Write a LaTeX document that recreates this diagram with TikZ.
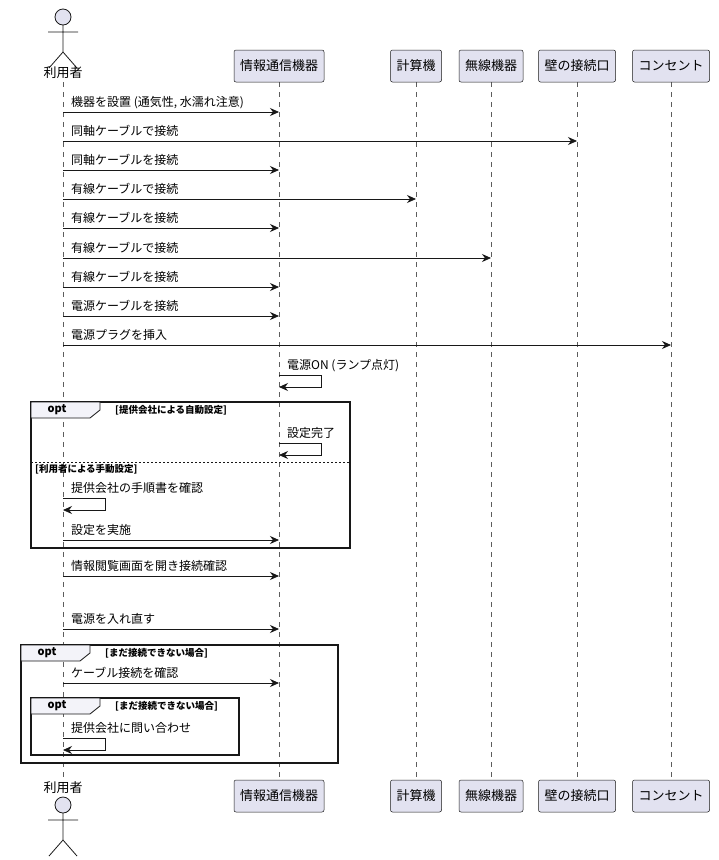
\documentclass[tikz,border=0pt]{standalone}
\usepackage{fontspec}
\setmainfont{Noto Sans CJK JP}
\usetikzlibrary{arrows.meta}
\definecolor{pfill}{HTML}{E2E2F0}
\definecolor{pline}{HTML}{181818}
\tikzset{
 part/.style={draw=pline,fill=pfill,rounded corners=2pt,line width=0.5pt,minimum height=32pt,inner xsep=6pt,font=\fontsize{13}{15}\selectfont,anchor=center},
 life/.style={draw=pline!70,dashed,line width=0.5pt,dash pattern=on 5pt off 5pt},
 msg/.style={draw=pline,line width=0.8pt,-{Stealth[length=9pt,width=8pt]}},
 lbl/.style={font=\fontsize{12}{14}\selectfont,anchor=base west,inner sep=0pt},
 grd/.style={font=\bfseries\fontsize{9.5}{11}\selectfont,anchor=base west,inner sep=0pt},
 frm/.style={draw=pline,line width=1.2pt},
}
\begin{document}
\begin{tikzpicture}[x=1pt,y=-1pt]
\useasboundingbox (0,0) rectangle (719,860);
% lifelines
\foreach \x/\t/\b in {63/82/780,279/82/780,416/82/780,491/82/780,577/82/780,671/82/780}
  \draw[life] (\x,\t) -- (\x,\b);
% participants
\foreach \y/\s in {66/t,796/b}{
 \node[part] (dev\s) at (279,\y) {情報通信機器};
 \node[part] (calc\s) at (416,\y) {計算機};
 \node[part] (wl\s) at (491,\y) {無線機器};
 \node[part] (wall\s) at (577,\y) {壁の接続口};
 \node[part] (out\s) at (671,\y) {コンセント};
}
% actors
\foreach \y/\ly in {17/73,805/788}{
 \draw[pline,fill=pfill,line width=0.8pt] (63,\y) circle (8);
 \draw[pline,line width=0.8pt] (63,\y+8) -- (63,\y+35) (48,\y+15) -- (78,\y+15)
   (63,\y+35) -- (49,\y+51) (63,\y+35) -- (77,\y+51);
 \node[font=\fontsize{13}{15}\selectfont] at (63,\ly) {利用者};
}
% messages
\foreach \y/\tx/\t in {112/{機器を設置 (通気性, 水濡れ注意)}/279,141/同軸ケーブルで接続/577,170/同軸ケーブルを接続/279,
 199/有線ケーブルで接続/416,228/有線ケーブルを接続/279,258/有線ケーブルで接続/491,287/有線ケーブルを接続/279,
 316/電源ケーブルを接続/279,345/電源プラグを挿入/671,540/設定を実施/279,576/情報閲覧画面を開き接続確認/279,
 629/電源を入れ直す/279,683/ケーブル接続を確認/279}{
 \draw[msg] (63,\y) -- (\t,\y);
 \node[lbl] at (71,\y-6) {\tx};
}
% self messages
\foreach \x/\y/\tx in {279/375/電源ON (ランプ点灯),279/443/設定完了,63/498/提供会社の手順書を確認,63/738/提供会社に問い合わせ}{
 \draw[msg] (\x,\y) -- (\x+42,\y) -- (\x+42,\y+12) -- (\x,\y+12);
 \node[lbl] at (\x+8,\y-6) {\tx};
}
% opt frame 1
\draw[frm] (31,402) rectangle (350,548);
\draw[pline,line width=0.8pt,fill=pfill!40!white] (31,402) -- (100,402) -- (100,410) -- (90,418) -- (31,418) -- cycle;
\node[font=\bfseries\fontsize{11}{13}\selectfont] at (57,410) {opt};
\node[grd] at (115,413) {[提供会社による自動設定]};
\draw[pline,line width=0.6pt,dash pattern=on 2pt off 2pt] (31,462) -- (350,462);
\node[grd] at (35,472) {[利用者による手動設定]};
% opt frame 2
\draw[frm] (21,645) rectangle (338,763);
\draw[pline,line width=0.8pt,fill=pfill!40!white] (21,645) -- (90,645) -- (90,653) -- (80,661) -- (21,661) -- cycle;
\node[font=\bfseries\fontsize{11}{13}\selectfont] at (47,653) {opt};
\node[grd] at (105,656) {[まだ接続できない場合]};
% opt frame 3
\draw[frm] (31,698) rectangle (239,755);
\draw[pline,line width=0.8pt,fill=pfill!40!white] (31,698) -- (100,698) -- (100,706) -- (90,714) -- (31,714) -- cycle;
\node[font=\bfseries\fontsize{11}{13}\selectfont] at (57,706) {opt};
\node[grd] at (115,709) {[まだ接続できない場合]};
\end{tikzpicture}
\end{document}
